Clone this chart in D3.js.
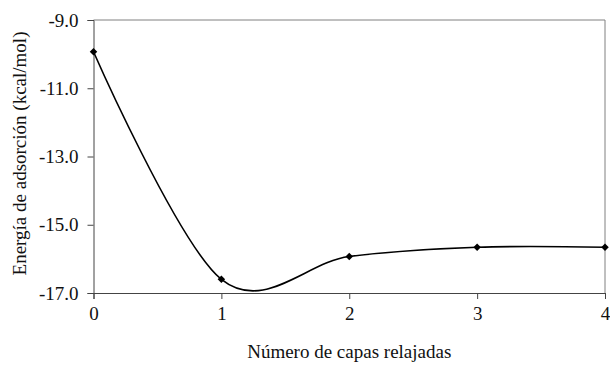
<!DOCTYPE html>
<html>
<head>
<meta charset="utf-8">
<script src="https://cdn.jsdelivr.net/npm/d3@7"></script>
<style>
  html, body { margin: 0; padding: 0; background: #fff; }
  svg { display: block; }
  svg text { font-family: "Times New Roman", "Liberation Serif", "DejaVu Serif", serif; fill: #111; }
</style>
</head>
<body>
<svg id="chart" width="610" height="365"></svg>
<script>
// Adsorption energy versus number of relaxed layers
const layers = [0, 1, 2, 3, 4];
const energy = [-9.93, -16.6, -15.93, -15.66, -15.66];
const yTicks = [-9, -11, -13, -15, -17];
const xTicks = [0, 1, 2, 3, 4];

const W = 610, H = 365;
const m = { left: 93.5, right: 5, top: 20, bottom: 72 };
const FONT = "'Times New Roman', 'Liberation Serif', 'DejaVu Serif', serif";
const FS = 19;

const svg = d3.select("#chart");

const x = d3.scaleLinear().domain([0, 4]).range([m.left, W - m.right]);
const y = d3.scaleLinear().domain([-17, -9]).range([H - m.bottom, m.top]);

// plot area frame (top and right edges)
svg.append("path")
  .attr("d", `M${x(0)},${y(-9)}H${x(4)}V${y(-17)}`)
  .attr("fill", "none")
  .attr("stroke", "#808080")
  .attr("stroke-width", 1);

// y axis
const yAxis = svg.append("g")
  .attr("transform", `translate(${x(0)},0)`)
  .call(d3.axisLeft(y).tickValues(yTicks).tickSize(6).tickPadding(9));
yAxis.attr("font-family", FONT);
yAxis.select(".domain").attr("stroke", "#444");
yAxis.selectAll(".tick line").attr("stroke", "#444");
yAxis.selectAll("text").attr("font-size", FS).attr("fill", "#111")
  .text(d => d.toFixed(1));

// x axis
const xAxis = svg.append("g")
  .attr("transform", `translate(0,${y(-17)})`)
  .call(d3.axisBottom(x).tickValues(xTicks).tickFormat(d3.format("d")).tickSize(6).tickPadding(8));
xAxis.attr("font-family", FONT);
xAxis.select(".domain").attr("stroke", "#444");
xAxis.selectAll(".tick line").attr("stroke", "#444");
xAxis.selectAll("text").attr("font-size", FS).attr("fill", "#111");

// smoothed series line
const pts = layers.map((d, i) => [d, energy[i]]);
svg.append("path")
  .datum(pts)
  .attr("fill", "none")
  .attr("stroke", "#000")
  .attr("stroke-width", 1.6)
  .attr("d", d3.line().x(d => x(d[0])).y(d => y(d[1])).curve(d3.curveCardinal.tension(0)));

// diamond markers
svg.append("g").selectAll("path")
  .data(pts)
  .join("path")
  .attr("transform", d => `translate(${x(d[0])},${y(d[1])})`)
  .attr("d", d3.symbol(d3.symbolDiamond2, 36))
  .attr("fill", "#000");

// axis titles
svg.append("text")
  .attr("x", (x(0) + x(4)) / 2)
  .attr("y", 358)
  .attr("text-anchor", "middle")
  .attr("font-family", FONT)
  .attr("font-size", FS)
  .text("Número de capas relajadas");

svg.append("text")
  .attr("transform", `translate(26,153.5) rotate(-90)`)
  .attr("text-anchor", "middle")
  .attr("font-family", FONT)
  .attr("font-size", FS)
  .text("Energía de adsorción (kcal/mol)");
</script>
</body>
</html>
